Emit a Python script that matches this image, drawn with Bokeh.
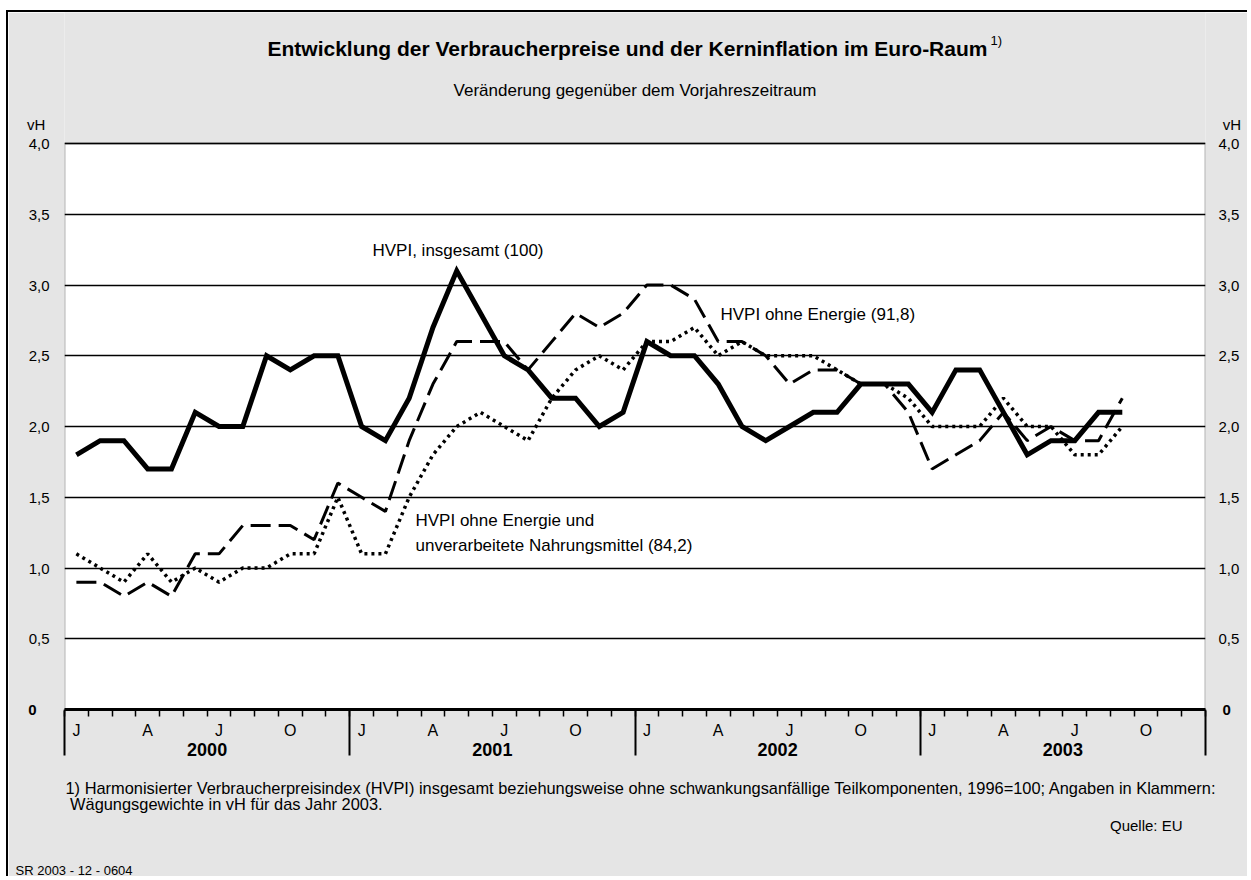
from bokeh.plotting import figure
from bokeh.models import (Range1d, LinearAxis, FixedTicker, Label, Grid, Title,
                          BoxAnnotation)
from bokeh.embed import file_html
from bokeh.resources import INLINE

# ---------------- data ----------------
YEARS = ["2000", "2001", "2002", "2003"]
MONTH_LETTERS = ["J", "", "", "A", "", "", "J", "", "", "O", "", ""]

# HVPI, insgesamt (100) - Jan 2000 .. Sep 2003
HVPI_INSGESAMT = [1.8, 1.9, 1.9, 1.7, 1.7, 2.1, 2.0, 2.0, 2.5, 2.4, 2.5, 2.5,
                  2.0, 1.9, 2.2, 2.7, 3.1, 2.8, 2.5, 2.4, 2.2, 2.2, 2.0, 2.1,
                  2.6, 2.5, 2.5, 2.3, 2.0, 1.9, 2.0, 2.1, 2.1, 2.3, 2.3, 2.3,
                  2.1, 2.4, 2.4, 2.1, 1.8, 1.9, 1.9, 2.1, 2.1]
# HVPI ohne Energie (91,8)
HVPI_OHNE_ENERGIE = [0.9, 0.9, 0.8, 0.9, 0.8, 1.1, 1.1, 1.3, 1.3, 1.3, 1.2, 1.6,
                     1.5, 1.4, 1.9, 2.3, 2.6, 2.6, 2.6, 2.4, 2.6, 2.8, 2.7, 2.8,
                     3.0, 3.0, 2.9, 2.6, 2.6, 2.5, 2.3, 2.4, 2.4, 2.3, 2.3, 2.1,
                     1.7, 1.8, 1.9, 2.1, 1.9, 2.0, 1.9, 1.9, 2.2]
# HVPI ohne Energie und unverarbeitete Nahrungsmittel (84,2)
HVPI_KERN = [1.1, 1.0, 0.9, 1.1, 0.9, 1.0, 0.9, 1.0, 1.0, 1.1, 1.1, 1.5,
             1.1, 1.1, 1.5, 1.8, 2.0, 2.1, 2.0, 1.9, 2.2, 2.4, 2.5, 2.4,
             2.6, 2.6, 2.7, 2.5, 2.6, 2.5, 2.5, 2.5, 2.4, 2.3, 2.3, 2.2,
             2.0, 2.0, 2.0, 2.2, 2.0, 2.0, 1.8, 1.8, 2.0]

Y_TICKS = [0.0, 0.5, 1.0, 1.5, 2.0, 2.5, 3.0, 3.5, 4.0]
Y_LABELS = ["0", "0,5", "1,0", "1,5", "2,0", "2,5", "3,0", "3,5", "4,0"]
Y_UNIT = "vH"

TITLE = "Entwicklung der Verbraucherpreise und der Kerninflation im Euro-Raum"
TITLE_NOTE = "1)"
SUBTITLE = "Veränderung gegenüber dem Vorjahreszeitraum"
FOOT1 = ("1) Harmonisierter Verbraucherpreisindex (HVPI) insgesamt beziehungsweise ohne "
         "schwankungsanfällige Teilkomponenten, 1996=100; Angaben in Klammern:")
FOOT2 = "Wägungsgewichte in vH für das Jahr 2003."
SOURCE = "Quelle: EU"
CODE = "SR 2003 - 12 - 0604"

# ---------------- layout ----------------
FONT = "Liberation Sans"
GRAY = "#e5e5e5"
OX, OY = 8, 12                        # canvas origin on the page
FL, FT, FR, FB = 64, 143, 1205, 709   # plot area edges on the page
W, H = 1243, 866
Y_MAX = 4.0
PX_PER_UNIT = (FB - FT) / Y_MAX

n_months = len(YEARS) * 12
# frame reaches the canvas top so that title texts live inside it
y_top = Y_MAX + (FT - OY) / PX_PER_UNIT

p = figure(width=W, height=H, x_range=Range1d(0, n_months), y_range=Range1d(0, y_top),
           output_backend="svg", toolbar_location=None,
           x_axis_location=None, y_axis_location=None,
           min_border_left=FL - OX, min_border_right=OX + W - FR,
           min_border_top=0, min_border_bottom=OY + H - FB)
p.styles = {"margin-left": "6px", "margin-top": "10px",
            "border-left": "2px solid black", "border-top": "2px solid black",
            "vertical-align": "top", "clip-path": "inset(0px 2px 0px 0px)"}
p.background_fill_color = GRAY
p.border_fill_color = GRAY
p.outline_line_color = None
p.center = [r for r in p.center if not isinstance(r, Grid)]

# white plot area with black frame
p.add_layout(BoxAnnotation(left=0, right=n_months, bottom=0, top=Y_MAX,
                           fill_color="white", fill_alpha=1.0,
                           line_color="black", line_width=2, level="underlay"))
p.add_layout(Grid(dimension=1, ticker=FixedTicker(ticks=Y_TICKS),
                  grid_line_color="black", grid_line_width=1.5))

# y axes: unit "vH" sits as an extra label just above the top tick;
# the bold zero gets its own (outer) axis on each side
y_unit_pos = Y_MAX + (FT - 124) / PX_PER_UNIT
ov_left = {t: l for t, l in zip(Y_TICKS[1:], Y_LABELS[1:])}
ov_left[y_unit_pos] = Y_UNIT + "\u00a0"
ov_right = {t: l for t, l in zip(Y_TICKS[1:], Y_LABELS[1:])}
ov_right[y_unit_pos] = "\u00a0" + Y_UNIT
ov_zero = {Y_TICKS[0]: Y_LABELS[0]}

def yaxis(ticks, ov, standoff, bold=False):
    return LinearAxis(ticker=FixedTicker(ticks=ticks),
                      major_label_overrides=ov,
                      major_tick_line_color=None, major_tick_in=0, major_tick_out=0,
                      minor_tick_line_color=None, axis_line_color=None,
                      major_label_standoff=standoff,
                      major_label_text_font=FONT, major_label_text_font_size="15px",
                      major_label_text_font_style="bold" if bold else "normal",
                      major_label_text_color="black")

p.add_layout(yaxis(Y_TICKS[1:] + [y_unit_pos], ov_left, 15), "left")
p.add_layout(yaxis(Y_TICKS[:1], ov_zero, -13, bold=True), "left")
p.add_layout(yaxis(Y_TICKS[1:] + [y_unit_pos], ov_right, 13), "right")
p.add_layout(yaxis(Y_TICKS[:1], ov_zero, -22, bold=True), "right")

# month axis
month_centers = [i + 0.5 for i in range(n_months)]
month_bounds = list(range(n_months + 1))
m_ov = {c: MONTH_LETTERS[i % 12] for i, c in enumerate(month_centers)}
xa = LinearAxis(ticker=FixedTicker(ticks=month_centers, minor_ticks=month_bounds),
                major_label_overrides=m_ov, major_tick_line_color=None,
                major_tick_out=7, major_tick_in=0,
                minor_tick_out=7, minor_tick_in=0, minor_tick_line_color="black",
                minor_tick_line_width=1.5, axis_line_color="black", axis_line_width=3,
                major_label_standoff=5, major_label_text_font=FONT,
                major_label_text_font_size="16px", major_label_text_color="black")
p.add_layout(xa, "below")

# year axis (labels + long year separators)
year_centers = [6 + 12 * i for i in range(len(YEARS))]
year_bounds = [12 * i for i in range(len(YEARS) + 1)]
y_ov = {c: YEARS[i] for i, c in enumerate(year_centers)}
xa2 = LinearAxis(ticker=FixedTicker(ticks=year_centers, minor_ticks=year_bounds),
                 major_label_overrides=y_ov, major_tick_line_color=None,
                 major_tick_out=0, major_tick_in=0,
                 minor_tick_in=31, minor_tick_out=14, minor_tick_line_color="black",
                 minor_tick_line_width=2, axis_line_color=None,
                 major_label_standoff=-13, major_label_text_font=FONT,
                 major_label_text_font_style="bold",
                 major_label_text_font_size="18px", major_label_text_color="black")
p.add_layout(xa2, "below")

def title(text, size, align, offset, standoff, lh=1.2):
    return Title(text=text, align=align, offset=offset, standoff=standoff,
                 text_font=FONT, text_font_size=f"{size}px", text_line_height=lh,
                 text_font_style="normal", text_color="black")

def spacer(standoff):
    return title("\u00a0", 1, "left", 0, standoff)

p.add_layout(spacer(15), "below")
p.add_layout(title(FOOT1 + "\n\u00a0" + FOOT2, 16.4, "left", 1, 0, lh=0.92), "below")
p.add_layout(title(SOURCE, 15, "right", FR - 1182, 3), "below")
p.add_layout(spacer(22), "below")
p.add_layout(title(CODE, 13, "left", 15 - FL, 0), "below")

# series
def xs(vals):
    return [i + 0.5 for i in range(len(vals))]

p.line(xs(HVPI_KERN), HVPI_KERN, line_color="black", line_width=3.5, line_dash="3 4")
p.line(xs(HVPI_OHNE_ENERGIE), HVPI_OHNE_ENERGIE, line_color="black", line_width=3,
       line_dash="20 8")
p.line(xs(HVPI_INSGESAMT), HVPI_INSGESAMT, line_color="black", line_width=5,
       line_join="miter")

# texts inside the frame (page pixel positions -> frame-relative screen units)
def lab(px, py, text, size, bold=False, align="left"):
    p.add_layout(Label(x=px - FL, y=FB - py, x_units="screen", y_units="screen",
                       text=text, text_font=FONT, text_font_size=f"{size}px",
                       text_font_style="bold" if bold else "normal",
                       text_color="black", text_align=align,
                       text_baseline="middle"))

lab(267, 48, TITLE, 21, bold=True)
lab(990, 40, TITLE_NOTE, 13)
lab((FL + FR) / 2, 90, SUBTITLE, 17, align="center")

lab(372, 250, "HVPI, insgesamt (100)", 17)
lab(720, 314, "HVPI ohne Energie (91,8)", 17)
lab(415, 520, "HVPI ohne Energie und", 17)
lab(415, 545, "unverarbeitete Nahrungsmittel (84,2)", 17)

open("out.html", "w").write(file_html(p, INLINE))
